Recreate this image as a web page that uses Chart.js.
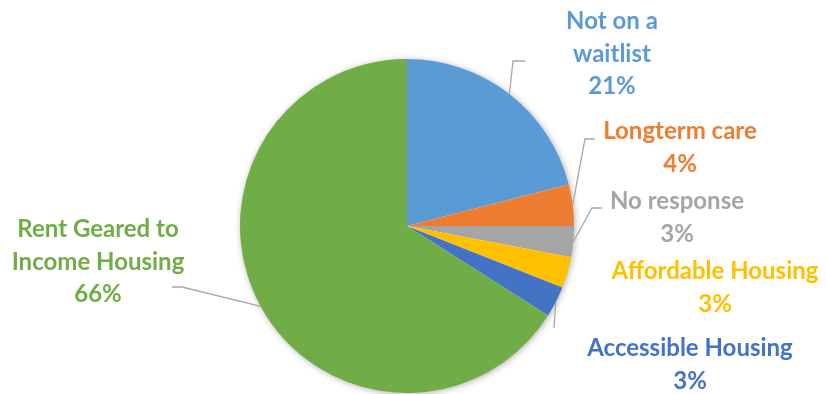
<!DOCTYPE html>
<html>
<head>
<meta charset="utf-8">
<title>Waitlist status</title>
<script src="https://cdn.jsdelivr.net/npm/chart.js@4/dist/chart.umd.min.js"></script>
<style>
  html, body { margin: 0; padding: 0; background: #ffffff; }
  #wrap { width: 826px; height: 394px; }
</style>
</head>
<body>
<div id="wrap"><canvas id="pie" width="826" height="394"></canvas></div>
<script>
// Survey categories and their shares (percent)
const categories = [
  ['Not on a', 'waitlist'],
  ['Longterm care'],
  ['No response'],
  ['Affordable Housing'],
  ['Accessible Housing'],
  ['Rent Geared to', 'Income Housing']
];
const shares = [21, 4, 3, 3, 3, 66];
const sliceColors = ['#5B9BD5', '#ED7D31', '#A5A5A5', '#FFC000', '#4472C4', '#70AD47'];

// Placement of each label block: centre x, first baseline, and the leader bend
const labelPlacement = [
  { x: 612, y: 29,  elbow: [513, 61],  tail: [525, 61] },
  { x: 680, y: 139, elbow: [585, 139], tail: [595, 139] },
  { x: 677, y: 209, elbow: [592, 208], tail: [602, 208] },
  { x: 715, y: 279, elbow: null,       tail: null },
  { x: 690, y: 356, elbow: [554, 328], tail: null },
  { x: 98,  y: 237, elbow: [182, 287], tail: [172, 287] }
];
const LINE_GAP = 32.5;
const LABEL_FONT = 'bold 24px Lato, "Open Sans", sans-serif';

// Soft halo behind the whole pie
const pieShadow = {
  id: 'pieShadow',
  beforeDatasetsDraw(chart) {
    const arc = chart.getDatasetMeta(0).data[0];
    if (!arc) return;
    const ctx = chart.ctx;
    ctx.save();
    ctx.shadowColor = 'rgba(0,0,0,0.35)';
    ctx.shadowBlur = 7;
    ctx.shadowOffsetX = 1;
    ctx.shadowOffsetY = 1;
    ctx.fillStyle = '#ffffff';
    ctx.beginPath();
    ctx.arc(arc.x, arc.y, arc.outerRadius - 0.5, 0, Math.PI * 2);
    ctx.fill();
    ctx.restore();
  }
};

// Category names with percentages, joined to slices by grey leader lines
const calloutLabels = {
  id: 'calloutLabels',
  afterDatasetsDraw(chart) {
    const ctx = chart.ctx;
    const arcs = chart.getDatasetMeta(0).data;
    ctx.save();
    arcs.forEach((arc, i) => {
      const place = labelPlacement[i];
      const mid = (arc.startAngle + arc.endAngle) / 2;
      const sx = arc.x + Math.cos(mid) * arc.outerRadius;
      const sy = arc.y + Math.sin(mid) * arc.outerRadius;
      if (place.elbow) {
        ctx.strokeStyle = '#A6A6A6';
        ctx.lineWidth = 1.3;
        ctx.beginPath();
        ctx.moveTo(sx, sy);
        ctx.lineTo(place.elbow[0], place.elbow[1]);
        if (place.tail) ctx.lineTo(place.tail[0], place.tail[1]);
        ctx.stroke();
      }
      const lines = categories[i].concat([shares[i] + '%']);
      ctx.font = LABEL_FONT;
      ctx.fillStyle = sliceColors[i];
      ctx.textAlign = 'center';
      ctx.textBaseline = 'alphabetic';
      lines.forEach((t, k) => ctx.fillText(t, place.x, place.y + k * LINE_GAP));
    });
    ctx.restore();
  }
};

new Chart(document.getElementById('pie'), {
  type: 'pie',
  data: {
    labels: categories.map(c => c.join(' ')),
    datasets: [{
      data: shares,
      backgroundColor: sliceColors,
      borderWidth: 0,
      offset: 0,
      hoverOffset: 0
    }]
  },
  options: {
    responsive: false,
    animation: false,
    layout: { padding: { left: 240, right: 252, top: 59, bottom: 1 } },
    plugins: {
      legend: { display: false },
      tooltip: { enabled: false }
    }
  },
  plugins: [pieShadow, calloutLabels]
});
</script>
</body>
</html>
